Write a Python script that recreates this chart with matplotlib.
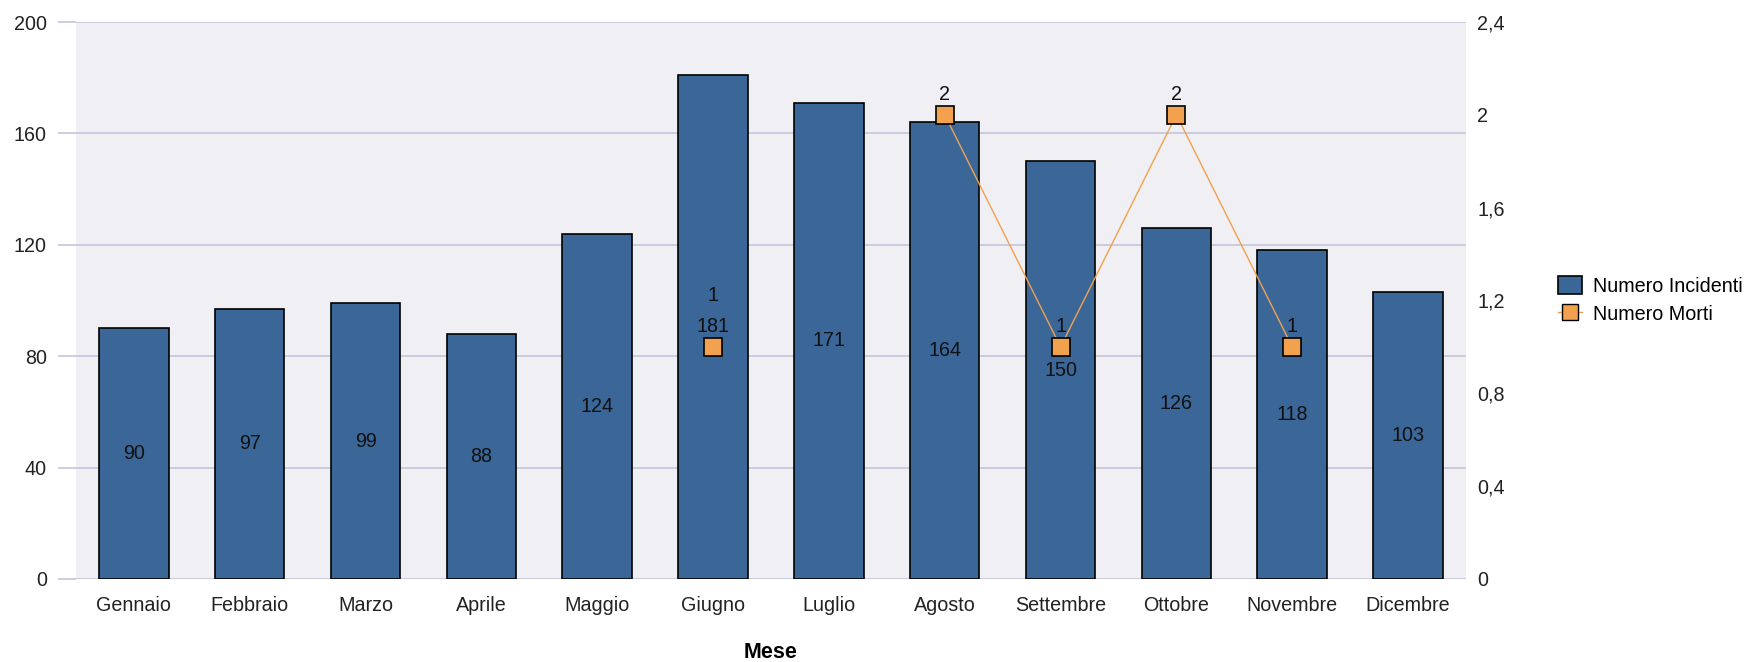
import numpy as np
import matplotlib
matplotlib.use("Agg")
import matplotlib.pyplot as plt
from matplotlib.ticker import FuncFormatter
from matplotlib.lines import Line2D
from matplotlib.patches import Patch

plt.rcParams['font.family'] = ['Liberation Sans', 'DejaVu Sans']

mesi = ["Gennaio", "Febbraio", "Marzo", "Aprile", "Maggio", "Giugno",
        "Luglio", "Agosto", "Settembre", "Ottobre", "Novembre", "Dicembre"]
incidenti = [90, 97, 99, 88, 124, 181, 171, 164, 150, 126, 118, 103]
# mesi senza morti non hanno punto
morti = [None, None, None, None, None, 1, None, 2, 1, 2, 1, None]

bar_color = "#3A6698"
line_color = "#F2A14E"
grid_color = "#C6C5DA"
bg_color = "#EFEFF4"
fs = 14.2

fig = plt.figure(figsize=(17.58, 6.62), dpi=100)
ax = fig.add_axes([76 / 1758, 1 - 579 / 662, (1466 - 76) / 1758, (579 - 22) / 662])
ax.set_facecolor(bg_color)

x = np.arange(len(mesi))
ax.bar(x, incidenti, width=0.6, color=bar_color, edgecolor="black", linewidth=1.2, zorder=3)
ax.set_xlim(-0.5, len(mesi) - 0.5)
ax.set_ylim(0, 200)
ax.set_yticks(np.arange(0, 201, 40))
ax.grid(axis="y", color=grid_color, linewidth=1.2, zorder=0)
ax.set_axisbelow(True)
for s in ax.spines.values():
    s.set_visible(False)
ax.tick_params(axis="y", length=13, color=grid_color, width=1.2, pad=8, labelsize=fs, labelcolor="#222222")
ax.tick_params(axis="x", length=0, pad=12, labelsize=fs, labelcolor="#222222")
ax.set_xticks(x)
ax.set_xticklabels(mesi)

# etichette barre a metà altezza
for xi, v in zip(x, incidenti):
    ax.text(xi, v / 2, str(v), ha="center", va="center", fontsize=fs, color="#111111", zorder=5)

ax2 = ax.twinx()
ax2.set_ylim(0, 2.4)
ax2.set_yticks(np.arange(0, 2.41, 0.4))
ax2.yaxis.set_major_formatter(FuncFormatter(lambda v, p: f"{v:g}".replace(".", ",")))
for s in ax2.spines.values():
    s.set_visible(False)
ax2.tick_params(axis="y", length=0, pad=8, labelsize=fs, labelcolor="#222222")

m = np.array([np.nan if v is None else v for v in morti], dtype=float)
ax2.plot(x, m, color=line_color, linewidth=1.0, marker="s", markersize=13,
         markerfacecolor=line_color, markeredgecolor="black", markeredgewidth=1.2, zorder=4)

for xi, v, b in zip(x, morti, incidenti):
    if v is None:
        continue
    off = 15
    # se l'etichetta cade sul valore della barra la sposto su
    lbl_left = v / 2.4 * 200 + 7.5
    if abs(lbl_left - b / 2) < 6:
        off = 37
    ax2.annotate(str(v), (xi, v), xytext=(0, off), textcoords="offset points",
                 ha="center", va="center", fontsize=fs, color="#111111", zorder=6)

handles = [
    Patch(facecolor=bar_color, edgecolor="black", linewidth=1.2, label="Numero Incidenti"),
    Line2D([0], [0], color=line_color, linewidth=1.0, marker="s", markersize=12,
           markerfacecolor=line_color, markeredgecolor="black", label="Numero Morti"),
]
fig.legend(handles=handles, loc="center left", bbox_to_anchor=(1550 / 1758, 1 - 300 / 662),
           frameon=False, fontsize=fs, handlelength=1.2, handleheight=1.0,
           handletextpad=0.6, labelspacing=0.45, borderaxespad=0)

fig.text(771 / 1758, 1 - 652 / 662, "Mese", ha="center", va="center", fontsize=15.5, fontweight="bold")

fig.savefig("out.png", dpi=100)
